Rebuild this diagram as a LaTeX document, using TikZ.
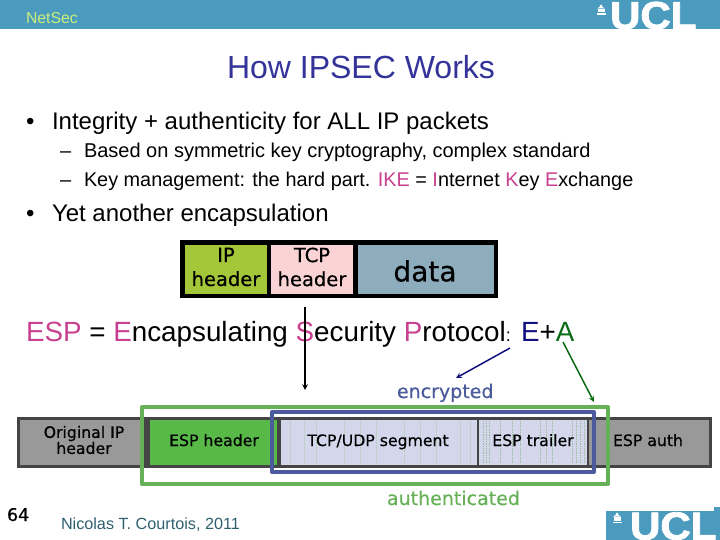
\documentclass[tikz,border=0pt]{standalone}
\usepackage{fontspec}
\setmainfont{Liberation Sans}
\newfontfamily\cellfont[FakeBold=0.5]{DejaVu Sans}
\newfontfamily\logofont[FakeBold=2]{Liberation Sans Bold}
\definecolor{bandblue}{HTML}{4A9BBE}
\definecolor{headgreen}{HTML}{CCF07A}
\definecolor{titleblue}{HTML}{33339A}
\definecolor{keypink}{HTML}{C8408F}
\definecolor{ipgreen}{HTML}{A4C639}
\definecolor{tcppink}{HTML}{FAD4D4}
\definecolor{datablue}{HTML}{8DACBC}
\definecolor{cellgrey}{HTML}{999999}
\definecolor{cellline}{HTML}{444444}
\definecolor{espgreen}{HTML}{58B848}
\definecolor{lilac}{HTML}{D4D6EC}
\definecolor{authgreen}{HTML}{66B058}
\definecolor{encblue}{HTML}{4B5A9C}
\definecolor{footteal}{HTML}{2F6070}
\definecolor{arrowgreen}{HTML}{0B6B14}
\definecolor{arrowblue}{HTML}{10107E}
\tikzset{
	txt/.style={anchor=base west, inner sep=0pt, outer sep=0pt},
	cell/.style={inner sep=0pt, outer sep=0pt, align=center, font=\cellfont},
	celltxt/.style={anchor=base, inner sep=0pt, outer sep=0pt, font=\cellfont\fontsize{15.7}{16}\selectfont},
	logo/.style={anchor=base west, inner sep=0pt, outer sep=0pt, text=white, transform shape, xscale=1.08, font=\logofont\fontsize{39}{39}\selectfont},
}
\begin{document}
\begin{tikzpicture}[x=1pt, y=-1pt, line join=round, >=stealth]
	\useasboundingbox (0,0) rectangle (720,540);
	% Bands
	\fill[bandblue] (0,0) rectangle (720,29);
	\fill[bandblue] (606,511) rectangle (720,540);
	\fill[bandblue] (714,507) rectangle (720,511);
	\node[logo] (toplogo) at (610,29) {UCL};
	\node[logo] (botlogo) at (630,539.5) {UCL};
	% Small buildings
	\foreach \bx/\by in {601/15, 617/523} {
		\fill[white] (\bx-4.5,\by) rectangle (\bx+4.5,\by-1.5);
		\fill[white] (\bx-3.5,\by-2.5) rectangle (\bx+3.5,\by-6);
		\fill[white] (\bx-4,\by-6.5) -- (\bx,\by-9) -- (\bx+4,\by-6.5) -- cycle;
		\fill[white] (\bx,\by-9) circle (1.5);
	}
	% Text
	\node[txt, text=headgreen, font=\fontsize{15.8}{15.8}\selectfont] (head) at (26,24) {NetSec};
	\node[txt, text=titleblue, font=\fontsize{32}{32}\selectfont] (title) at (227,79) {How IPSEC Works};
	\node[txt, font=\fontsize{24}{24}\selectfont] (bulla) at (26,130) {•};
	\node[txt, font=\fontsize{24}{24}\selectfont] (linea) at (52,130) {Integrity + authenticity for ALL IP packets};
	\node[txt, font=\fontsize{20}{20}\selectfont] (dasha) at (60,158) {–};
	\node[txt, font=\fontsize{20}{20}\selectfont] (lineb) at (84,158) {Based on symmetric key cryptography, complex standard};
	\node[txt, font=\fontsize{20}{20}\selectfont] (dashb) at (60,187) {–};
	\node[txt, font=\fontsize{19.85}{20}\selectfont] (linec) at (84,187) {Key management: the hard part. \textcolor{keypink}{IKE} = \textcolor{keypink}{I}nternet \textcolor{keypink}{K}ey \textcolor{keypink}{E}xchange};
	\node[txt, font=\fontsize{24}{24}\selectfont] (bullb) at (26,222) {•};
	\node[txt, font=\fontsize{24}{24}\selectfont] (lined) at (52,222) {Yet another encapsulation};
	\node[txt, font=\fontsize{27.8}{27.8}\selectfont] (espline) at (26,341) {\textcolor{keypink}{ESP} = \textcolor{keypink}{E}ncapsulating \textcolor{keypink}{S}ecurity \textcolor{keypink}{P}rotocol{\fontsize{18}{18}\selectfont:} \textcolor{arrowblue}{E}+\textcolor{arrowgreen}{A}};
	% Upper packet
	\fill[black] (180,240) rectangle (498,298);
	\fill[ipgreen] (185,245) rectangle (267,294);
	\fill[tcppink] (271,245) rectangle (353,294);
	\fill[datablue] (358,245) rectangle (494,294);
	\node[cell, font=\cellfont\fontsize{19.5}{24}\selectfont] (ip) at (226,267) {IP\\header};
	\node[cell, font=\cellfont\fontsize{19.5}{24}\selectfont] (tcp) at (312,267) {TCP\\header};
	\node[cell, font=\cellfont\fontsize{28}{28}\selectfont] (data) at (425,271) {data};
	% Lower packet
	\fill[cellline] (17,417) rectangle (712,468);
	\fill[cellgrey] (20,420) rectangle (140,465);
	\fill[espgreen] (150,420) rectangle (277,465);
	\fill[lilac] (281,420) rectangle (477,465);
	\fill[lilac] (479,420) rectangle (587,465);
	\fill[cellgrey] (589,420) rectangle (709,465);
	\foreach \dx in {290,304,316,344,360,376,404,420,436,460,470}
		\draw[green!35!black!30, densely dotted, line width=0.6pt] (\dx,421) -- (\dx,464);
	\foreach \dx in {483,486,489,500,512,520,540,546,552,572,576,580,584}
		\draw[green!35!black!40, densely dotted, line width=0.8pt] (\dx,421) -- (\dx,464);
	\node[cell, font=\cellfont\fontsize{15.7}{16}\selectfont] (orig) at (84,440) {Original IP\\header};
	\node[celltxt] (esph) at (214,446) {ESP header};
	\node[celltxt] (seg) at (378,446) {TCP/UDP segment};
	\node[celltxt] (trail) at (533,446) {ESP trailer};
	\node[celltxt] (auth) at (648,446) {ESP auth};
	% Frames
	\draw[authgreen, line width=4pt] (142,407) rectangle (608,484);
	\draw[encblue, line width=4pt] (272,412) rectangle (594,472);
	\node[txt, text=encblue, font=\cellfont\fontsize{19}{19}\selectfont] (enc) at (397,398) {encrypted};
	\node[txt, text=authgreen, font=\cellfont\fontsize{19}{19}\selectfont] (authd) at (387,505) {authenticated};
	% Arrows
	\coordinate (sa) at (305,307);
	\coordinate (sb) at (305,390);
	\coordinate (ea) at (510,348);
	\coordinate (eb) at (456,378);
	\coordinate (aa) at (563,342);
	\coordinate (ab) at (594,402);
	\draw[->, line width=1.5pt] (sa) -- (sb);
	\draw[->, arrowblue, line width=1.5pt] (ea) -- (eb);
	\draw[->, arrowgreen, line width=1.5pt] (aa) -- (ab);
	% Footer
	\node[txt, font=\cellfont\fontsize{17.5}{17.5}\selectfont] (num) at (7,521) {64};
	\node[txt, text=footteal, font=\fontsize{16.2}{16.2}\selectfont] (foot) at (61,529) {Nicolas T. Courtois, 2011};
\end{tikzpicture}
\end{document}
